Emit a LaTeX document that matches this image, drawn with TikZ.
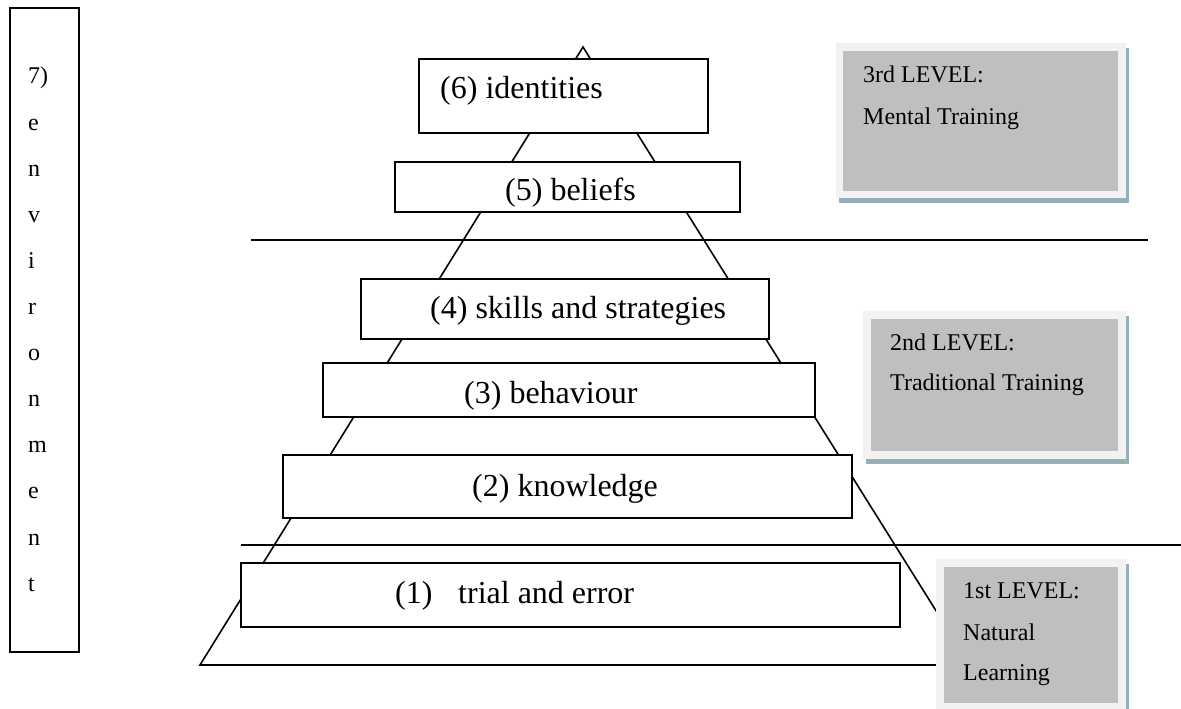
\documentclass[tikz,border=0pt]{standalone}
\usepackage{fontspec}
\setmainfont{Liberation Serif}
\definecolor{framegrey}{RGB}{242,242,242}
\definecolor{fillgrey}{RGB}{191,191,191}
\definecolor{shadowblue}{RGB}{150,176,186}
\tikzset{
  pbox/.style={draw=black, line width=1.6pt, fill=white, anchor=north west, inner sep=0pt, outer sep=0pt},
  ptext/.style={anchor=base west, inner sep=0pt, font=\fontsize{32}{38}\selectfont},
  gtext/.style={anchor=base west, inner sep=0pt, font=\fontsize{24}{29}\selectfont},
  ltext/.style={anchor=base west, inner sep=0pt, font=\fontsize{24}{29}\selectfont},
  thin line/.style={line width=1.6pt},
}
\begin{document}
\begin{tikzpicture}[x=1pt,y=-1pt]
\useasboundingbox (0,0) rectangle (1181,709);
% pyramid outline
\coordinate (apex) at (583,47);
\coordinate (bl) at (200,665);
\coordinate (br) at (970,665);
\draw[thin line] (bl) -- (apex) -- (br) -- cycle;
% level separators
\coordinate (h1a) at (251,240); \coordinate (h1b) at (1148,240);
\coordinate (h2a) at (241,545); \coordinate (h2b) at (1181,545);
\draw[thin line] (h1a) -- (h1b);
\draw[thin line] (h2a) -- (h2b);
% pyramid boxes
\node[pbox, minimum width=289pt, minimum height=74pt] (b6) at (419,59) {};
\node[pbox, minimum width=345pt, minimum height=50pt] (b5) at (395,162) {};
\node[pbox, minimum width=408pt, minimum height=60pt] (b4) at (361,279) {};
\node[pbox, minimum width=492pt, minimum height=54pt] (b3) at (323,363) {};
\node[pbox, minimum width=569pt, minimum height=63pt] (b2) at (283,455) {};
\node[pbox, minimum width=659pt, minimum height=64pt] (b1) at (241,563) {};
\node[ptext] (t6) at (440,99) {(6) identities};
\node[ptext] (t5) at (505,200) {(5) beliefs};
\node[ptext] (t4) at (430,318) {(4) skills and strategies};
\node[ptext] (t3) at (464,403) {(3) behaviour};
\node[ptext] (t2) at (472,496) {(2) knowledge};
\node[ptext] (t1a) at (395,603) {(1)};
\node[ptext] (t1b) at (458,603) {trial and error};
% level boxes
\fill[shadowblue] (839,48) rectangle (1129,203);
\fill[framegrey] (836,43) rectangle (1126,198);
\fill[fillgrey] (843,51) rectangle (1118,191);
\node[gtext] (l3a) at (863,82) {3rd LEVEL:};
\node[gtext] (l3b) at (863,124) {Mental Training};
\fill[shadowblue] (866,316) rectangle (1129,464);
\fill[framegrey] (863,311) rectangle (1126,459);
\fill[fillgrey] (871,319) rectangle (1118,451);
\node[gtext] (l2a) at (890,350) {2nd LEVEL:};
\node[gtext] (l2b) at (890,390) {Traditional Training};
\fill[shadowblue] (939,564) rectangle (1129,716);
\fill[framegrey] (936,559) rectangle (1126,711);
\fill[fillgrey] (944,567) rectangle (1118,703);
\node[gtext] (l1a) at (963,598) {1st LEVEL:};
\node[gtext] (l1b) at (963,640) {Natural};
\node[gtext] (l1c) at (963,680) {Learning};
% environment box
\node[pbox, minimum width=69pt, minimum height=644pt] (env) at (10,8) {};
\foreach \t [count=\i from 0] in {7), e, n, v, i, r, o, n, m, e, n, t}{
  \node[ltext] (e\i) at (28,{84+46.1*\i}) {\t};
}
\end{tikzpicture}
\end{document}
